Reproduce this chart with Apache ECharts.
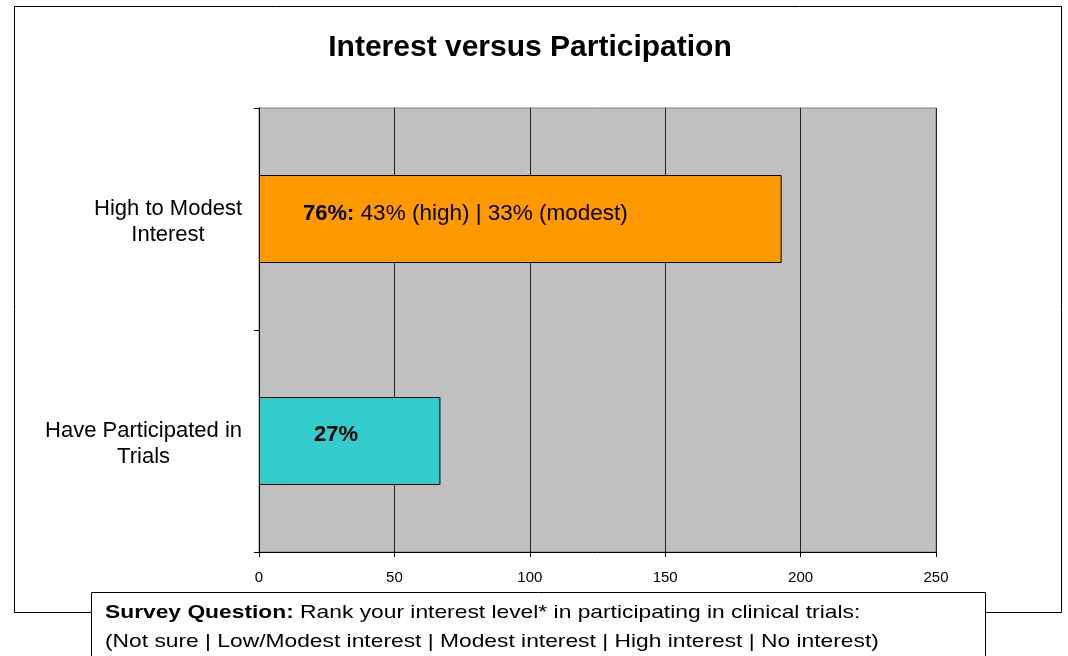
<!DOCTYPE html>
<html>
<head>
<meta charset="utf-8">
<script src="https://cdn.jsdelivr.net/npm/echarts@6/dist/echarts.min.js"></script>
<style>
html,body{margin:0;padding:0;background:#fff;}
#chart{width:1068px;height:656px;}
</style>
</head>
<body>
<div id="chart"></div>
<script>
// ---- data ----
const categories = ['High to Modest\nInterest', 'Have Participated in\nTrials'];
const values = [193, 67];
const barColors = ['#FF9900', '#33CCCC'];
const barLabelsBold = ['76%:', '27%'];
const barLabelsRest = [' 43% (high) | 33% (modest)', ''];
const xTicks = {min: 0, max: 250, interval: 50};
const titleText = 'Interest versus Participation';
const noteBold = 'Survey Question:';
const noteLine1 = ' Rank your interest level* in participating in clinical trials:';
const noteLine2 = '(Not sure | Low/Modest interest | Modest interest | High interest | No interest)';

const FONT = '"Liberation Sans", Arial, Helvetica, sans-serif';
const chart = echarts.init(document.getElementById('chart'), null, {renderer: 'canvas'});

const labelOffsets = [[39, -5], [50, -6]];

const option = {
  backgroundColor: '#ffffff',
  animation: false,
  title: {
    text: titleText,
    left: 525,
    top: 28,
    textAlign: 'center',
    textStyle: {fontFamily: FONT, fontSize: 30, fontWeight: 'bold', color: '#000'}
  },
  grid: {
    left: 259, right: 132, top: 108, bottom: 104,
    show: true, backgroundColor: '#C0C0C0', borderColor: '#808080', borderWidth: 1,
    containLabel: false
  },
  xAxis: {
    type: 'value',
    min: xTicks.min, max: xTicks.max, interval: xTicks.interval,
    axisLine: {show: true, lineStyle: {color: '#000', width: 1}},
    axisTick: {show: true, length: 5, lineStyle: {color: '#000'}},
    axisLabel: {fontFamily: FONT, fontSize: 15, color: '#000', margin: 18},
    splitLine: {show: true, lineStyle: {color: '#222', width: 1}}
  },
  yAxis: {
    type: 'category',
    inverse: true,
    data: categories,
    axisLine: {show: true, lineStyle: {color: '#000', width: 1}},
    axisTick: {show: true, length: 5, alignWithLabel: false, lineStyle: {color: '#000'}},
    axisLabel: {
      margin: 17,
      align: 'right',
      padding: [6, 0, 0, 0],
      formatter: function (v) {
        return v.split('\n').map(function (l) { return '{a|' + l + '}'; }).join('\n');
      },
      rich: {a: {align: 'center', fontFamily: FONT, fontSize: 22, lineHeight: 26, color: '#000'}}
    },
    splitLine: {show: false}
  },
  series: [{
    type: 'bar',
    barWidth: 88,
    data: values.map(function (v, i) {
      return {
        value: v,
        itemStyle: {color: barColors[i], borderColor: '#000', borderWidth: 1},
        label: {
          show: true,
          position: 'insideLeft',
          distance: 5,
          offset: labelOffsets[i],
          formatter: '{b|' + barLabelsBold[i] + '}' + (barLabelsRest[i] ? '{n|' + barLabelsRest[i] + '}' : ''),
          rich: {
            b: {fontFamily: FONT, fontSize: 22, fontWeight: 'bold', color: '#000'},
            n: {fontFamily: FONT, fontSize: 22.5, color: '#000'}
          }
        }
      };
    })
  }],
  graphic: [
    {
      type: 'rect', z: -1, silent: true,
      shape: {x: 14.5, y: 6.5, width: 1047, height: 606},
      style: {fill: 'none', stroke: '#000', lineWidth: 1}
    },
    {
      type: 'rect', z: 10, silent: true,
      shape: {x: 91.5, y: 592.5, width: 894, height: 90},
      style: {fill: '#fff', stroke: '#000', lineWidth: 1}
    },
    {
      type: 'text', z: 11, silent: true,
      x: 105, y: 598, scaleX: 1.2,
      style: {
        text: '{b|' + noteBold + '}{n|' + noteLine1 + '}\n{n|' + noteLine2 + '}',
        rich: {
          b: {fontFamily: FONT, fontSize: 19, fontWeight: 'bold', lineHeight: 29, fill: '#000'},
          n: {fontFamily: FONT, fontSize: 19, lineHeight: 29, fill: '#000'}
        },
        fill: '#000'
      }
    }
  ]
};
chart.setOption(option);
</script>
</body>
</html>
